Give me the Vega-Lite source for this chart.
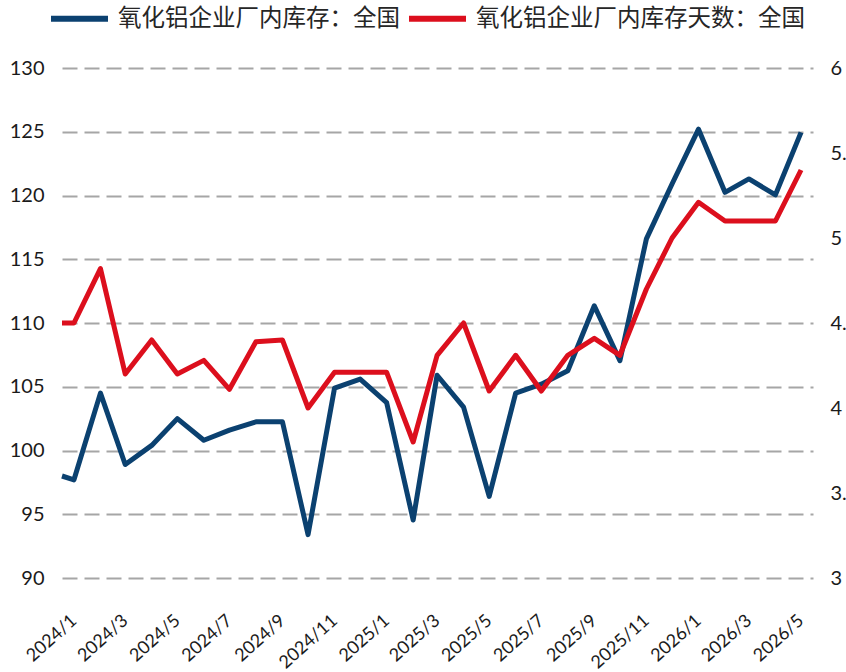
{
  "$schema": "https://vega.github.io/schema/vega-lite/v6.json",
  "autosize": {"type": "none"},
  "width": 751,
  "height": 510,
  "padding": {"left": 62, "top": 68, "right": 33, "bottom": 94},
  "background": "white",
  "config": {"view": {"stroke": null}, "font": "Lato"},
  "data": {
    "values": [
      {"date": "2023-12-18", "series": "氧化铝企业厂内库存：全国", "value": 98.0},
      {"date": "2024-01-01", "series": "氧化铝企业厂内库存：全国", "value": 97.7},
      {"date": "2024-02-01", "series": "氧化铝企业厂内库存：全国", "value": 104.5},
      {"date": "2024-03-01", "series": "氧化铝企业厂内库存：全国", "value": 98.9},
      {"date": "2024-04-01", "series": "氧化铝企业厂内库存：全国", "value": 100.4},
      {"date": "2024-05-01", "series": "氧化铝企业厂内库存：全国", "value": 102.5},
      {"date": "2024-06-01", "series": "氧化铝企业厂内库存：全国", "value": 100.8},
      {"date": "2024-07-01", "series": "氧化铝企业厂内库存：全国", "value": 101.6},
      {"date": "2024-08-01", "series": "氧化铝企业厂内库存：全国", "value": 102.25},
      {"date": "2024-09-01", "series": "氧化铝企业厂内库存：全国", "value": 102.25},
      {"date": "2024-10-01", "series": "氧化铝企业厂内库存：全国", "value": 93.4},
      {"date": "2024-11-01", "series": "氧化铝企业厂内库存：全国", "value": 104.9},
      {"date": "2024-12-01", "series": "氧化铝企业厂内库存：全国", "value": 105.6},
      {"date": "2025-01-01", "series": "氧化铝企业厂内库存：全国", "value": 103.75},
      {"date": "2025-02-01", "series": "氧化铝企业厂内库存：全国", "value": 94.55},
      {"date": "2025-03-01", "series": "氧化铝企业厂内库存：全国", "value": 105.9},
      {"date": "2025-04-01", "series": "氧化铝企业厂内库存：全国", "value": 103.4},
      {"date": "2025-05-01", "series": "氧化铝企业厂内库存：全国", "value": 96.4},
      {"date": "2025-06-01", "series": "氧化铝企业厂内库存：全国", "value": 104.5},
      {"date": "2025-07-01", "series": "氧化铝企业厂内库存：全国", "value": 105.2},
      {"date": "2025-08-01", "series": "氧化铝企业厂内库存：全国", "value": 106.25},
      {"date": "2025-09-01", "series": "氧化铝企业厂内库存：全国", "value": 111.35},
      {"date": "2025-10-01", "series": "氧化铝企业厂内库存：全国", "value": 107.05},
      {"date": "2025-11-01", "series": "氧化铝企业厂内库存：全国", "value": 116.6},
      {"date": "2025-12-01", "series": "氧化铝企业厂内库存：全国", "value": 120.9},
      {"date": "2026-01-01", "series": "氧化铝企业厂内库存：全国", "value": 125.2},
      {"date": "2026-02-01", "series": "氧化铝企业厂内库存：全国", "value": 120.25},
      {"date": "2026-03-01", "series": "氧化铝企业厂内库存：全国", "value": 121.3},
      {"date": "2026-04-01", "series": "氧化铝企业厂内库存：全国", "value": 120.05},
      {"date": "2026-05-01", "series": "氧化铝企业厂内库存：全国", "value": 124.95},
      {"date": "2023-12-18", "series": "氧化铝企业厂内库存天数：全国", "value": 4.5},
      {"date": "2024-01-01", "series": "氧化铝企业厂内库存天数：全国", "value": 4.5},
      {"date": "2024-02-01", "series": "氧化铝企业厂内库存天数：全国", "value": 4.82},
      {"date": "2024-03-01", "series": "氧化铝企业厂内库存天数：全国", "value": 4.2},
      {"date": "2024-04-01", "series": "氧化铝企业厂内库存天数：全国", "value": 4.4},
      {"date": "2024-05-01", "series": "氧化铝企业厂内库存天数：全国", "value": 4.2},
      {"date": "2024-06-01", "series": "氧化铝企业厂内库存天数：全国", "value": 4.28},
      {"date": "2024-07-01", "series": "氧化铝企业厂内库存天数：全国", "value": 4.11},
      {"date": "2024-08-01", "series": "氧化铝企业厂内库存天数：全国", "value": 4.39},
      {"date": "2024-09-01", "series": "氧化铝企业厂内库存天数：全国", "value": 4.4},
      {"date": "2024-10-01", "series": "氧化铝企业厂内库存天数：全国", "value": 4.0},
      {"date": "2024-11-01", "series": "氧化铝企业厂内库存天数：全国", "value": 4.21},
      {"date": "2024-12-01", "series": "氧化铝企业厂内库存天数：全国", "value": 4.21},
      {"date": "2025-01-01", "series": "氧化铝企业厂内库存天数：全国", "value": 4.21},
      {"date": "2025-02-01", "series": "氧化铝企业厂内库存天数：全国", "value": 3.8},
      {"date": "2025-03-01", "series": "氧化铝企业厂内库存天数：全国", "value": 4.31},
      {"date": "2025-04-01", "series": "氧化铝企业厂内库存天数：全国", "value": 4.5},
      {"date": "2025-05-01", "series": "氧化铝企业厂内库存天数：全国", "value": 4.1},
      {"date": "2025-06-01", "series": "氧化铝企业厂内库存天数：全国", "value": 4.31},
      {"date": "2025-07-01", "series": "氧化铝企业厂内库存天数：全国", "value": 4.1},
      {"date": "2025-08-01", "series": "氧化铝企业厂内库存天数：全国", "value": 4.31},
      {"date": "2025-09-01", "series": "氧化铝企业厂内库存天数：全国", "value": 4.41},
      {"date": "2025-10-01", "series": "氧化铝企业厂内库存天数：全国", "value": 4.31},
      {"date": "2025-11-01", "series": "氧化铝企业厂内库存天数：全国", "value": 4.7},
      {"date": "2025-12-01", "series": "氧化铝企业厂内库存天数：全国", "value": 5.0},
      {"date": "2026-01-01", "series": "氧化铝企业厂内库存天数：全国", "value": 5.21},
      {"date": "2026-02-01", "series": "氧化铝企业厂内库存天数：全国", "value": 5.1},
      {"date": "2026-03-01", "series": "氧化铝企业厂内库存天数：全国", "value": 5.1},
      {"date": "2026-04-01", "series": "氧化铝企业厂内库存天数：全国", "value": 5.1},
      {"date": "2026-05-01", "series": "氧化铝企业厂内库存天数：全国", "value": 5.4}
    ]
  },
  "encoding": {
    "x": {
      "field": "date",
      "type": "temporal",
      "scale": {
        "type": "utc",
        "domain": [
          {"year": 2023, "month": 12, "date": 18, "utc": true},
          {"year": 2026, "month": 5, "date": 15, "utc": true}
        ]
      },
      "axis": {
        "title": null,
        "format": "%Y/%-m",
        "tickCount": {"interval": "month", "step": 2},
        "labelAngle": -42,
        "labelAlign": "right",
        "labelBaseline": "middle",
        "labelPadding": 40,
        "labelOverlap": false,
        "labelFlush": false,
        "labelBound": false,
        "grid": false,
        "domain": false,
        "ticks": false,
        "labelFont": "Lato",
        "labelFontSize": 18,
        "labelColor": "#1a1a1a"
      }
    },
    "color": {
      "field": "series",
      "type": "nominal",
      "scale": {
        "domain": ["氧化铝企业厂内库存：全国", "氧化铝企业厂内库存天数：全国"],
        "range": ["#0b4170", "#dc0f1d"]
      },
      "legend": {
        "title": null,
        "orient": "none",
        "legendX": -14,
        "legendY": -81,
        "direction": "horizontal",
        "symbolType": "stroke",
        "symbolSize": 3249,
        "symbolStrokeWidth": 6,
        "labelFont": "Noto Sans CJK SC",
        "labelFontSize": 23.5,
        "labelColor": "#262626",
        "labelLimit": 500,
        "labelOffset": 7,
        "columnPadding": -3
      }
    }
  },
  "layer": [
    {
      "transform": [{"filter": "datum.series === '氧化铝企业厂内库存：全国'"}],
      "mark": {"type": "line", "strokeWidth": 5, "strokeJoin": "round"},
      "encoding": {
        "y": {
          "field": "value",
          "type": "quantitative",
          "scale": {"domain": [90, 130], "nice": false, "zero": false},
          "axis": {
            "title": null,
            "orient": "left",
            "values": [90, 95, 100, 105, 110, 115, 120, 125, 130],
            "grid": true,
            "gridDash": [15, 7],
            "gridColor": "#a6a6a6",
            "gridWidth": 2,
            "domain": false,
            "ticks": false,
            "labelFont": "Lato",
            "labelFontSize": 20,
            "labelColor": "#1a1a1a",
            "labelPadding": 18
          }
        }
      }
    },
    {
      "transform": [{"filter": "datum.series === '氧化铝企业厂内库存天数：全国'"}],
      "mark": {"type": "line", "strokeWidth": 5, "strokeJoin": "round"},
      "encoding": {
        "y": {
          "field": "value",
          "type": "quantitative",
          "scale": {"domain": [3, 6], "nice": false, "zero": false},
          "axis": {
            "title": null,
            "orient": "right",
            "values": [3, 3.5, 4, 4.5, 5, 5.5, 6],
            "format": "~g",
            "grid": false,
            "domain": false,
            "ticks": false,
            "labelFont": "Lato",
            "labelFontSize": 20,
            "labelColor": "#1a1a1a",
            "labelPadding": 17
          }
        }
      }
    }
  ],
  "resolve": {"scale": {"y": "independent"}}
}
